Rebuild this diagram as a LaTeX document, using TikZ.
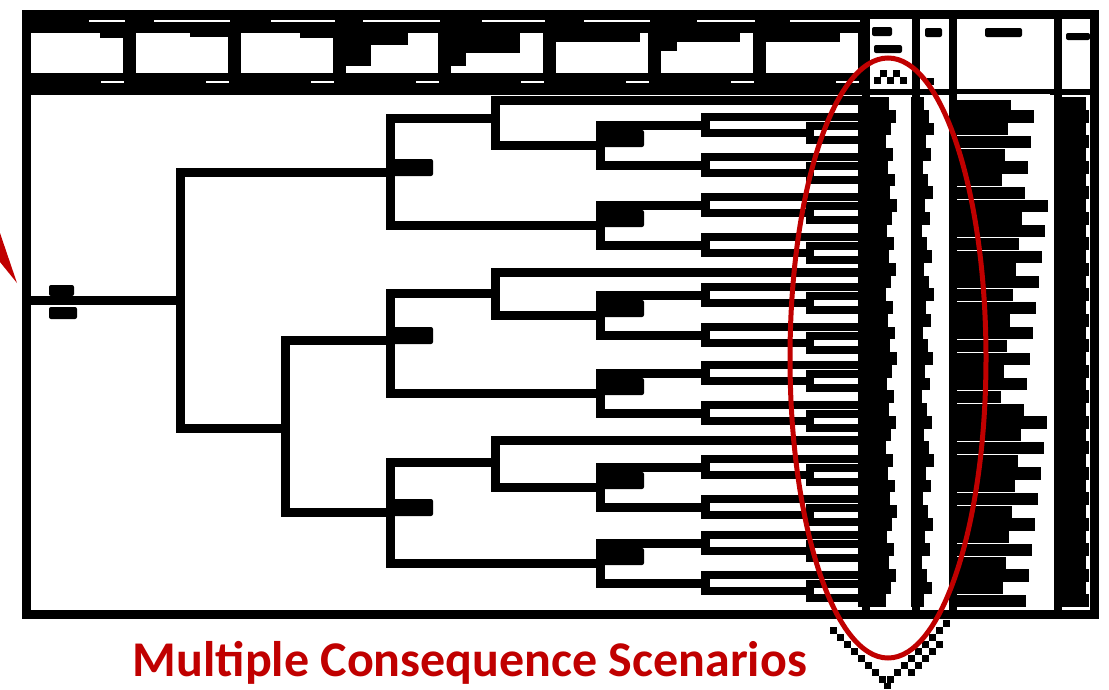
\documentclass[tikz,border=0pt]{standalone}
\usepackage{fontspec}
\setmainfont{Carlito}
\definecolor{callred}{RGB}{192,0,0}
\begin{document}
\begin{tikzpicture}[x=1pt,y=-1pt,
  branch/.style={line width=9pt, line cap=rect, line join=miter},
  twig/.style={line width=7.5pt, line cap=rect, line join=miter},
  blob/.style={fill=black, rounded corners=2pt},
  colrule/.style={line width=8pt},
]
\useasboundingbox (0,0) rectangle (1109,689);

% ---------- header band ----------
\fill (22,10) rectangle (866,92);
\foreach \i in {0,...,7} {
  \pgfmathsetmacro\xl{22+105*\i+9}
  \pgfmathsetmacro\xr{22+105*(\i+1)-4}
  \fill[white] (\xl,33) rectangle (\xr,73);
  \fill[white] (\xr-22,81) rectangle (\xr+1,83);
}
\foreach \a/\i in {89/0,154/1,271/2,363/3,482/4,584/5,697/6,790/7}
  \fill[white] (\a,20) rectangle ({22+105*(\i+1)-2},22);
% text running into the header boxes
\fill (100,33) rectangle (123,38);
\fill (190,33) rectangle (228,37);
\fill (300,33) rectangle (333,38);
\fill (346,33) rectangle (408,45);
\fill (346,45) rectangle (371,66);
\fill (451,33) rectangle (520,53);
\fill (451,53) rectangle (466,66);
\fill (556,33) rectangle (640,42);
\fill (661,33) rectangle (740,42);
\fill (661,42) rectangle (677,51);
\fill (766,33) rectangle (840,42);

% right-hand header cells
\fill[blob] (872,27) rectangle (892,36);
\fill[blob] (874,45) rectangle (902,53);
\fill[blob] (925,28) rectangle (942,37);
\fill[blob] (985,28) rectangle (1022,37);
\fill[blob] (1066,33) rectangle (1090,40);
\foreach \x/\y in {874/77,887/77,900/77,880/70,893/70,927/78}
  \fill (\x,\y) rectangle (\x+6.5,\y+6.5);

% ---------- column rules and frame ----------
\foreach \x in {866,916,953,1058}
  \draw[colrule] (\x,14) -- (\x,614);
\draw[line width=6pt] (22,92) -- (1098,92);
\draw[line width=9pt] (26,14) rectangle (1094,614);

% ---------- consequence columns (dense entries) ----------
\foreach \i in {0,...,39} {
  \pgfmathsetmacro\ya{97+12.75*\i}
  \pgfmathsetmacro\yb{\ya+12.75}
  \pgfmathsetmacro\wa{886+mod(7*\i+3,12)}
  \pgfmathsetmacro\wb{922+mod(5*\i+2,13)}
  \pgfmathsetmacro\wc{1000+mod(23*\i+11,49)}
  \pgfmathsetmacro\wd{1086+mod(3*\i,6)}
  \fill (858,\ya) rectangle (\wa,\yb);
  \fill (911,\ya) rectangle (\wb,\yb);
  \fill (957,\ya+0.5) rectangle (\wc,\yb);
  \fill (1062,\ya) rectangle (\wd,\yb);
}
\fill[white] (957,94) rectangle (1050,100);
\fill (957,100) rectangle (992,108);

% ---------- event tree ----------
\coordinate (ie) at (30,300);
\coordinate (s0) at (180,300);
\begin{scope}[branch]
  \draw (ie) -- (s0);
  \draw (390,172) -| (180,428) -- (285,428);
  \draw (390,340) -| (285,512) -- (390,512);
  \draw (495,118) -| (390,225) -- (600,225);
  \draw (495,293) -| (390,393) -- (600,393);
  \draw (495,462) -| (390,563) -- (600,563);
  \draw (858,100) -| (495,145) -- (600,145);
  \draw (858,272) -| (495,315) -- (600,315);
  \draw (858,440) -| (495,487) -- (600,487);
  \foreach \c in {145,225,315,393,487,563}
    \draw (705,\c-20) -| (600,\c+20) -- (705,\c+20);
\end{scope}
\foreach \c in {145,225,315,393,487,563}
  \foreach \s in {-20,20} {
    \pgfmathsetmacro\d{\c+\s}
    \draw[twig] (858,\d-8) -| (705,\d+8) -- (810,\d+8);
    \draw[twig] (858,\d+1) -| (810,\d+15) -- (858,\d+15);
  }

% branch labels
\fill[blob] (49,285) rectangle (74,296);
\fill[blob] (49,307) rectangle (77,319);
\foreach \y in {172,340,512}
  \fill[blob] (393,\y-13) rectangle (433,\y+4);
\foreach \c in {145,225,315,393,487,563}
  \fill[blob] (603,\c-15) rectangle (644,\c+2);

% ---------- call-out ----------
\foreach \k in {0,...,7}
  \fill (830+7*\k,627+7*\k) rectangle (836.5+7*\k,633.5+7*\k);
\foreach \k in {0,...,8}
  \fill (943-7*\k,620+7*\k) rectangle (949.5-7*\k,626.5+7*\k);
\foreach \k in {0,...,4}
  \fill (936-7*\k,641+7*\k) rectangle (942.5-7*\k,647.5+7*\k);
\fill (884,683) rectangle (890.5,689);

\draw[callred, line width=5pt] (888,358) ellipse [x radius=98, y radius=300];
\fill[callred] (0,233) -- (17,283) -- (0,262) -- cycle;
\node[anchor=base, text=callred, font=\bfseries\fontsize{50}{54}\selectfont, inner sep=0pt]
  (caption) at (470,676) {Multiple Consequence Scenarios};
\end{tikzpicture}
\end{document}
